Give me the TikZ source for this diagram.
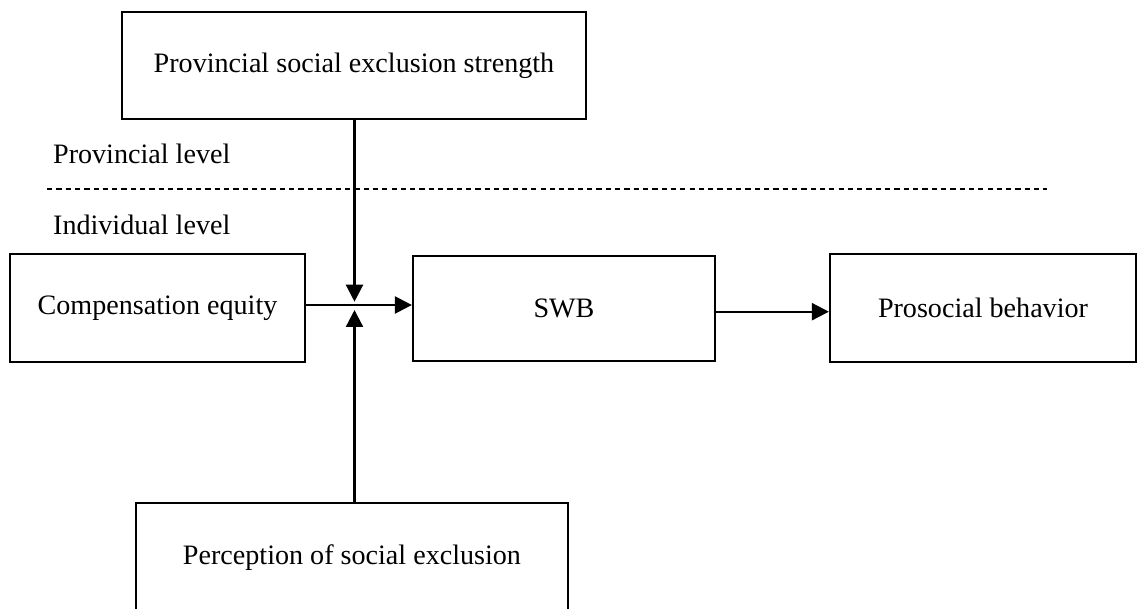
\documentclass[tikz,border=0pt]{standalone}
\usepackage{fontspec}
\setmainfont{Liberation Serif}
\usetikzlibrary{arrows.meta,positioning}

\begin{document}
\begin{tikzpicture}[x=0.02cm, y=0.02cm, line width=1.3pt,
		box/.style={draw, rectangle, inner sep=0pt, font=\fontsize{16}{19}\selectfont},
		arr/.style={-{Triangle[length=3.4mm, width=3.4mm]}},
		lvl/.style={anchor=base west, inner sep=0pt, font=\fontsize{16}{19}\selectfont}]
	\clip (0, 0) rectangle (1137, 609);

	\node[box, minimum width=9.28cm, minimum height=2.14cm] (prov) at (354, 543.5) {Provincial social exclusion strength};
	\node[box, minimum width=5.9cm, minimum height=2.16cm] (comp) at (157.5, 301) {Compensation equity};
	\node[box, minimum width=6.04cm, minimum height=2.1cm] (swb) at (564, 300.3) {SWB};
	\node[box, minimum width=6.12cm, minimum height=2.16cm] (pro) at (983, 301) {Prosocial behavior};
	\node[box, minimum width=8.64cm, minimum height=2.2cm] (perc) at (352, 51) {Perception of social exclusion};

	\node[lvl] (provlvl) at (52, 445) {Provincial level};
	\node[lvl] (indlvl) at (52, 374) {Individual level};
	\draw[line width=0.6pt, dash pattern=on 3pt off 2.3pt] (47, 420) -- (1047, 420);

	\coordinate (j) at (354.5, 304);
	\draw[arr] (prov.south -| j) -- ([yshift=0.066cm]j);
	\draw[arr] (perc.north -| j) -- ([yshift=-0.1cm]j);
	\draw[arr] (comp.east |- j) -- (swb.west |- j);
	\draw[arr] ([yshift=-0.06cm]swb.east) -- ([yshift=-0.06cm]swb.east -| pro.west);
\end{tikzpicture}
\end{document}
